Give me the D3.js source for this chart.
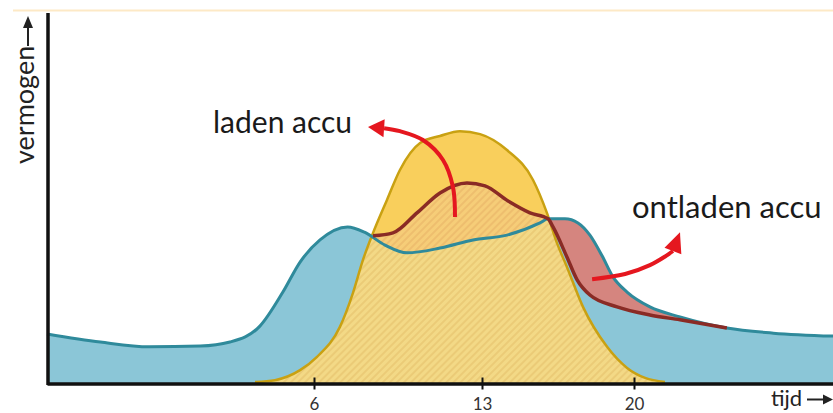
<!DOCTYPE html>
<html><head><meta charset="utf-8">
<script src="https://cdn.jsdelivr.net/npm/d3@7"></script>
<style>body{margin:0;background:#fff}svg{display:block}</style>
</head><body><svg id="c" width="833" height="413"></svg>
<script>
// ---- data (hours of the day, power in arbitrary units 0-100) ----
const demandHours  = [-5.5,-3.2,-1.1,1.1,2.38,3.67,4.66,5.4,6.25,7.4,8.1,8.96,9.875,11.25,12.625,14.15,15.67,16.04,16.82,17.42,17.97,18.53,19.03,19.68,20.72,22.08,24.2,26.3,29];
const demandValues = [13.0,10.8,9.5,9.7,10.8,15.1,24.3,32.4,38.4,41.9,40.5,37.0,34.9,36.2,38.4,39.7,43.0,44.1,44.1,43.0,39.7,34.1,28.4,24.3,20.3,17.6,14.6,13.2,12.4];

const solarHours  = [3.46,4.32,5.4,6.125,7.08,7.625,8.04,8.46,9.04,9.58,10.42,11.25,12.08,12.92,14.15,15.35,15.99,16.45,16.91,17.65,18.76,19.68,20.5,21.4];
const solarValues = [0,0.5,3.2,6.8,14.9,24.1,33.0,40.3,49.2,57.3,64.6,66.5,67.8,67.0,62.7,54.6,45.7,37.6,31.1,20.3,9.5,3.8,1.1,0];

const storageHours  = [8.46,9.29,10.29,11.25,12.375,13.14,14.2,15.21,16.04,16.27,16.91,17.38,17.97,19.22,20.72,22.08,24.2];
const storageValues = [39.5,40.3,45.7,51.1,53.8,53.0,48.9,45.7,44.1,41.9,33.8,27.6,23.5,20.3,18.1,16.8,14.6];

const tickValues = [6, 13, 20];
const yLabel = "vermogen";
const xLabel = "tijd";

const chargeLabel = "laden accu";
const chargeLabelPos = [1.65, 67.3];
const chargeArrowHours  = [11.875,11.79,11.375,10.54,9.58,8.92];
const chargeArrowValues = [44.6,52.7,60.0,65.4,67.8,68.6];
const chargeArrowTip = [8.25, 68.9];

const dischargeLabel = "ontladen accu";
const dischargeLabelPos = [19.91, 44.3];
const dischargeArrowHours  = [18.07,19.59,20.72,21.45,21.76];
const dischargeArrowValues = [27.8,29.2,31.6,34.1,35.4];
const dischargeArrowTip = [22.08, 40.5];

// ---- setup ----
const svg = d3.select('#c');
const x = d3.scaleLinear().domain([-5.5, 6, 13, 20, 29]).range([47, 314, 482, 634, 833]);
const y = d3.scaleLinear().domain([0, 100]).range([382, 12]);
const zip = (h, v) => h.map((d, i) => ({h: d, v: v[i]}));
const demand = zip(demandHours, demandValues);
const solar = zip(solarHours, solarValues);
const storage = zip(storageHours, storageValues);
const base = y(0) + 2;

const line = d3.line().x(d => x(d.h)).y(d => y(d.v)).curve(d3.curveMonotoneX);
const areaBelow = d3.area().x(d => x(d.h)).y0(base).y1(d => y(d.v)).curve(d3.curveMonotoneX);
const areaAbove = d3.area().x(d => x(d.h)).y0(d => y(d.v)).y1(0).curve(d3.curveMonotoneX);

const defs = svg.append('defs');
function hatch(id, bg, fg) {
  const p = defs.append('pattern').attr('id', id).attr('patternUnits', 'userSpaceOnUse')
    .attr('width', 5).attr('height', 5).attr('patternTransform', 'rotate(45)');
  p.append('rect').attr('width', 5).attr('height', 5).attr('fill', bg);
  p.append('line').attr('x1', 1).attr('x2', 1).attr('y1', 0).attr('y2', 5)
    .attr('stroke', fg).attr('stroke-width', 1.4);
}
hatch('hatchPeach', '#f6cd78', '#ebb86a');
hatch('hatchPale', '#f3d986', '#e8c671');
defs.append('clipPath').attr('id', 'clipSolar').append('path').attr('d', areaBelow(solar));
defs.append('clipPath').attr('id', 'clipDemand').append('path').attr('d', areaBelow(demand));

// top faint line
svg.append('line').attr('x1', 13).attr('x2', 833).attr('y1', 10.5).attr('y2', 10.5)
  .attr('stroke', '#fde9c6').attr('stroke-width', 2);

// demand fill
svg.append('path').attr('d', areaBelow(demand)).attr('fill', '#8bc6d7');
// solar solid fill
svg.append('path').attr('d', areaBelow(solar)).attr('fill', '#f9cf5c');
// hatch under storage line within solar
svg.append('g').attr('clip-path', 'url(#clipSolar)')
  .append('path').attr('d', areaBelow(storage)).attr('fill', 'url(#hatchPeach)');
// pale hatch under demand within solar
svg.append('g').attr('clip-path', 'url(#clipSolar)')
  .append('g').attr('clip-path', 'url(#clipDemand)')
  .append('rect').attr('x', 0).attr('y', 0).attr('width', 833).attr('height', 413)
  .attr('fill', 'url(#hatchPale)');
// discharge area (between storage line and demand)
svg.append('g').attr('clip-path', 'url(#clipDemand)')
  .append('path').attr('d', areaAbove(storage.filter(d => d.h >= 16.04))).attr('fill', '#d5857f');

// lines
svg.append('path').attr('d', line(solar)).attr('fill', 'none').attr('stroke', '#c9a112').attr('stroke-width', 2.5);
svg.append('path').attr('d', line(demand)).attr('fill', 'none').attr('stroke', '#2f8a9b').attr('stroke-width', 3);
svg.append('path').attr('d', line(storage)).attr('fill', 'none').attr('stroke', '#8a2b25').attr('stroke-width', 3.5);

// axes
const xAxis = svg.append('g').attr('transform', 'translate(0,383.5)')
  .call(d3.axisBottom(x).tickValues(tickValues).tickSizeInner(7).tickSizeOuter(0).tickPadding(7));
xAxis.select('.domain').attr('stroke', '#111').attr('stroke-width', 3.5);
xAxis.selectAll('.tick line').attr('y1', -6).attr('y2', 6).attr('stroke', '#111').attr('stroke-width', 2);
xAxis.selectAll('.tick text').attr('font-family', 'Lato, sans-serif').attr('font-size', 17)
  .attr('fill', '#333');
const yAxis = svg.append('g').attr('transform', 'translate(48,0)')
  .call(d3.axisLeft(y).tickValues([]).tickSizeOuter(0));
yAxis.select('.domain').attr('stroke', '#111').attr('stroke-width', 3.5)
  .attr('d', `M0,${y(100) + 1}V${y(0) + 3}`);

// axis titles
svg.append('text').attr('transform', 'translate(34,164) rotate(-90)')
  .attr('font-family', 'Lato, sans-serif').attr('font-size', 27).attr('fill', '#222').text(yLabel);
svg.append('line').attr('x1', 28).attr('x2', 28).attr('y1', 46).attr('y2', 26).attr('stroke', '#222').attr('stroke-width', 2);
svg.append('path').attr('d', 'M28,16L33,28L23,28Z').attr('fill', '#222');
svg.append('text').attr('x', 771).attr('y', 406)
  .attr('font-family', 'Lato, sans-serif').attr('font-size', 22).attr('fill', '#222').text(xLabel);
svg.append('line').attr('x1', 807).attr('x2', 825).attr('y1', 399.5).attr('y2', 399.5).attr('stroke', '#222').attr('stroke-width', 2);
svg.append('path').attr('d', 'M833,399.5L823,394.5L823,404.5Z').attr('fill', '#222');

// annotations
function arrow(hs, vs, tip) {
  const pts = hs.map((h, i) => [x(h), y(vs[i])]);
  svg.append('path').attr('d', d3.line().curve(d3.curveCatmullRom)(pts))
    .attr('fill', 'none').attr('stroke', '#e5171f').attr('stroke-width', 4);
  const b = pts[pts.length - 1], t = [x(tip[0]), y(tip[1])];
  const dx = t[0] - b[0], dy = t[1] - b[1], L = Math.hypot(dx, dy);
  const nx = -dy / L * 9, ny = dx / L * 9;
  svg.append('path').attr('d', `M${t[0]},${t[1]}L${b[0] + nx},${b[1] + ny}L${b[0] - nx},${b[1] - ny}Z`)
    .attr('fill', '#e5171f');
}
arrow(chargeArrowHours, chargeArrowValues, chargeArrowTip);
arrow(dischargeArrowHours, dischargeArrowValues, dischargeArrowTip);

svg.append('text').attr('x', x(chargeLabelPos[0])).attr('y', y(chargeLabelPos[1]))
  .attr('font-family', 'Lato, sans-serif').attr('font-size', 30).attr('fill', '#1a1a1a').text(chargeLabel);
svg.append('text').attr('x', x(dischargeLabelPos[0])).attr('y', y(dischargeLabelPos[1]))
  .attr('font-family', 'Lato, sans-serif').attr('font-size', 31).attr('fill', '#1a1a1a').text(dischargeLabel);
</script>
</body></html>
